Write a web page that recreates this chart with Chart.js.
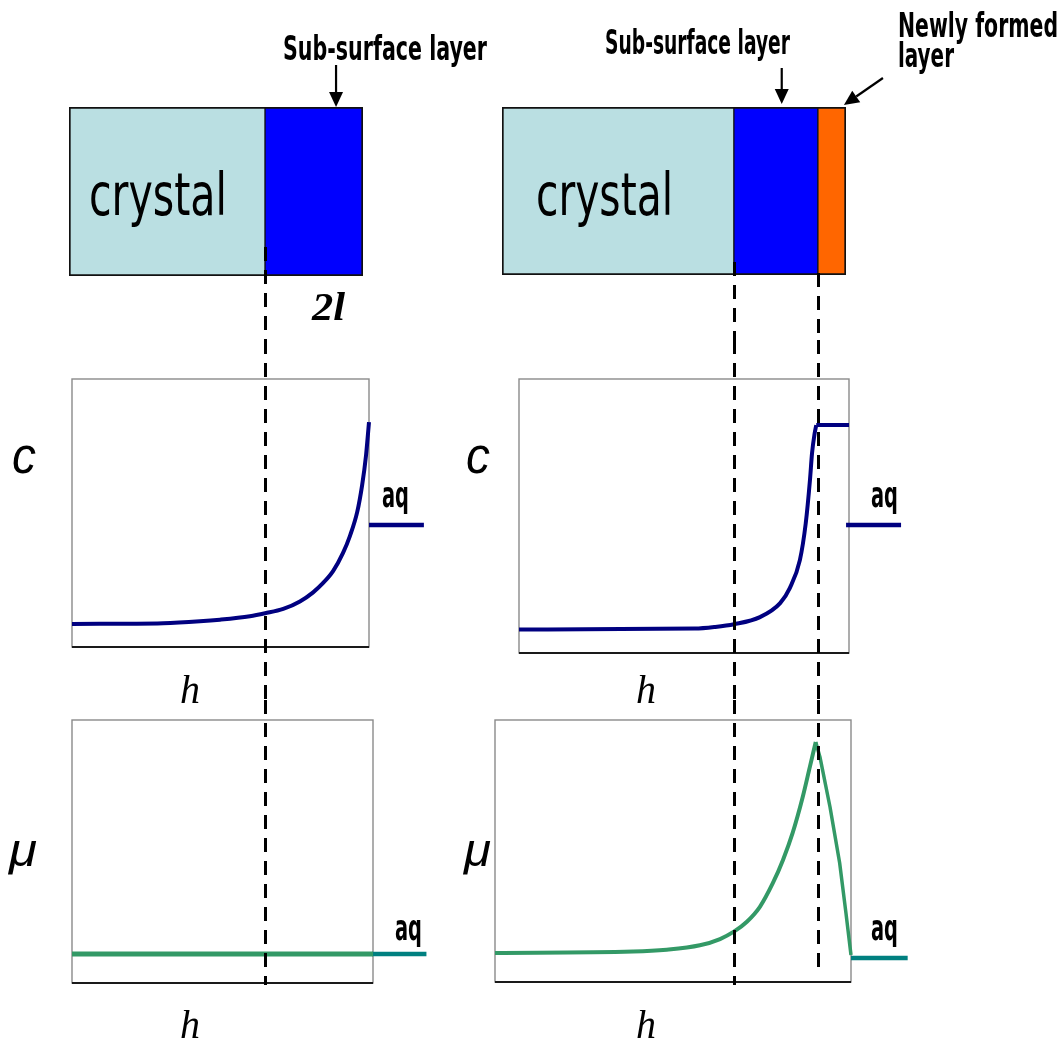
<!DOCTYPE html>
<html>
<head>
<meta charset="utf-8">
<script src="https://cdn.jsdelivr.net/npm/chart.js@4.4.1/dist/chart.umd.min.js"></script>
<style>
  html, body { margin: 0; padding: 0; background: #fff; }
  #page { position: relative; width: 1062px; height: 1042px; overflow: hidden; background: #fff; }
  .panel { position: absolute; }
  #labels { position: absolute; left: 0; top: 0; pointer-events: none; }
  .narrow { font-family: 'Liberation Sans Narrow', 'DejaVu Sans Condensed', 'Liberation Sans', sans-serif; }
  .bold { font-weight: bold; }
  .sym { font-family: 'Liberation Sans', Arial, sans-serif; font-style: italic; }
  .serif { font-family: 'Liberation Serif', 'Times New Roman', serif; font-style: italic; }
</style>
</head>
<body>
<div id="page">
  <div class="panel" style="left:0;top:0;width:460px;height:340px"><canvas id="layersBefore"></canvas></div>
  <div class="panel" style="left:460px;top:0;width:602px;height:340px"><canvas id="layersAfter"></canvas></div>
  <div class="panel" style="left:0;top:340px;width:460px;height:360px"><canvas id="concBefore"></canvas></div>
  <div class="panel" style="left:460px;top:340px;width:602px;height:360px"><canvas id="concAfter"></canvas></div>
  <div class="panel" style="left:0;top:700px;width:460px;height:342px"><canvas id="potBefore"></canvas></div>
  <div class="panel" style="left:460px;top:700px;width:602px;height:342px"><canvas id="potAfter"></canvas></div>

  <svg id="labels" width="1062" height="1042" xmlns="http://www.w3.org/2000/svg">
    <!-- layer names -->
    <text class="narrow" x="89" y="215" font-size="58" textLength="138" lengthAdjust="spacingAndGlyphs">crystal</text>
    <text class="narrow" x="536" y="215" font-size="58" textLength="137" lengthAdjust="spacingAndGlyphs">crystal</text>
    <text class="narrow bold" x="283" y="60" font-size="33" textLength="204" lengthAdjust="spacingAndGlyphs">Sub-surface layer</text>
    <text class="narrow bold" x="605" y="54" font-size="33" textLength="185" lengthAdjust="spacingAndGlyphs">Sub-surface layer</text>
    <text class="narrow bold" x="898" y="37" font-size="33" textLength="160" lengthAdjust="spacingAndGlyphs">Newly formed</text>
    <text class="narrow bold" x="898" y="67" font-size="33" textLength="56" lengthAdjust="spacingAndGlyphs">layer</text>
    <text font-family="'Liberation Serif', serif" font-style="italic" font-weight="bold" x="312" y="320" font-size="40" textLength="33" lengthAdjust="spacingAndGlyphs">2l</text>

    <!-- concentration panels -->
    <text class="sym" x="12" y="473" font-size="52" textLength="24" lengthAdjust="spacingAndGlyphs">c</text>
    <text class="sym" x="466" y="473" font-size="52" textLength="24" lengthAdjust="spacingAndGlyphs">c</text>
    <text class="narrow bold" x="382" y="507" font-size="35" textLength="27" lengthAdjust="spacingAndGlyphs">aq</text>
    <text class="narrow bold" x="871" y="507" font-size="35" textLength="27" lengthAdjust="spacingAndGlyphs">aq</text>
    <text class="serif" x="180" y="703" font-size="40">h</text>
    <text class="serif" x="636" y="703" font-size="40">h</text>

    <!-- chemical potential panels -->
    <text class="sym" x="9" y="866" font-size="46" textLength="28" lengthAdjust="spacingAndGlyphs">μ</text>
    <text class="sym" x="464" y="866" font-size="46" textLength="27" lengthAdjust="spacingAndGlyphs">μ</text>
    <text class="narrow bold" x="395" y="940" font-size="35" textLength="27" lengthAdjust="spacingAndGlyphs">aq</text>
    <text class="narrow bold" x="871" y="940" font-size="35" textLength="27" lengthAdjust="spacingAndGlyphs">aq</text>
    <text class="serif" x="180" y="1038" font-size="40">h</text>
    <text class="serif" x="636" y="1038" font-size="40">h</text>
  </svg>
</div>

<script>
// Position h is measured in units of l from the crystal / sub-surface interface (h = 0).

// Layer extents before growth
const layersBefore = ['crystal', 'Sub-surface layer'];
const layerStartBefore = [-4, 0];
const layerEndBefore = [0, 2];
const layerColorsBefore = ['#BADFE2', '#0000FF'];

// Layer extents after growth
const layersAfter = ['crystal', 'Sub-surface layer', 'Newly formed layer'];
const layerStartAfter = [-5.52, 0, 2];
const layerEndAfter = [0, 2, 2.67];
const layerColorsAfter = ['#BADFE2', '#0000FF', '#FF6600'];

// Concentration profile c(h) before growth
const hConcBefore = [-3.94, -2.08, -1.33, -0.92, -0.31, 0, 0.37, 0.71, 0.98, 1.18, 1.39, 1.59, 1.73, 1.88, 1.98, 2.06, 2.12];
const concBefore  = [0.086, 0.089, 0.096, 0.102, 0.115, 0.126, 0.142, 0.170, 0.204, 0.238, 0.284, 0.351, 0.414, 0.504, 0.604, 0.716, 0.839];
const hAqConcBefore = [2.12, 3.24];
const aqConcBefore  = [0.455, 0.455];

// Concentration profile c(h) after growth: rise through sub-surface, plateau in the new layer
const hConcAfter = [-5.12, -0.93, -0.45, 0, 0.62, 1.10, 1.33, 1.57, 1.71, 1.81, 1.86, 1.92, 1.96];
const concAfter  = [0.086, 0.089, 0.095, 0.105, 0.131, 0.182, 0.237, 0.339, 0.474, 0.631, 0.730, 0.800, 0.832];
const hConcNewLayer = [1.96, 2.74];
const concNewLayer  = [0.832, 0.832];
const hAqConcAfter = [2.67, 3.98];
const aqConcAfter  = [0.467, 0.467];

// Chemical potential mu(h) before growth
const hPotBefore = [-3.94, 2.20];
const potBefore  = [0.110, 0.110];
const hAqPotBefore = [2.18, 3.29];
const aqPotBefore  = [0.110, 0.110];

// Chemical potential mu(h) after growth: rising branch, peak, falling branch
const hPotRise = [-5.69, -2.40, -1.60, -0.81, -0.33, 0, 0.31, 0.62, 0.93, 1.17, 1.40, 1.64, 1.81, 1.95];
const potRise  = [0.111, 0.116, 0.123, 0.140, 0.164, 0.192, 0.230, 0.287, 0.378, 0.466, 0.569, 0.706, 0.821, 0.916];
const hPotFall = [1.95, 2.05, 2.29, 2.52, 2.67, 2.79];
const potFall  = [0.916, 0.859, 0.668, 0.454, 0.263, 0.103];
const hAqPotAfter = [2.79, 4.14];
const aqPotAfter  = [0.092, 0.092];

const NAVY = '#000080', GREEN = '#339966', TEAL = '#008080';

const xy = (hs, vs) => hs.map((h, i) => ({ x: h, y: vs[i] }));

// Plot frame: grey box with a dark baseline
const frameBox = {
  id: 'frameBox',
  beforeDatasetsDraw(chart, args, opts) {
    if (!opts || !opts.show) return;
    const { ctx, chartArea: a } = chart;
    ctx.save();
    ctx.strokeStyle = '#8a8a8a';
    ctx.lineWidth = 1.4;
    ctx.strokeRect(a.left, a.top, a.right - a.left, a.bottom - a.top);
    ctx.beginPath();
    ctx.moveTo(a.left, a.bottom);
    ctx.lineTo(a.right, a.bottom);
    ctx.strokeStyle = '#1a1a1a';
    ctx.lineWidth = 2;
    ctx.stroke();
    ctx.restore();
  }
};

// Dashed vertical guides at the layer interfaces
const interfaces = {
  id: 'interfaces',
  afterDatasetsDraw(chart, args, opts) {
    if (!opts || !opts.lines) return;
    const { ctx } = chart;
    const xs = chart.scales.x;
    ctx.save();
    ctx.strokeStyle = '#000';
    ctx.lineWidth = 3;
    ctx.setLineDash([14, 9]);
    opts.lines.forEach(l => {
      const px = Math.round(xs.getPixelForValue(l.h)) + 0.5;
      ctx.beginPath();
      ctx.moveTo(px, l.from);
      ctx.lineTo(px, l.to == null ? chart.height : l.to);
      ctx.stroke();
    });
    ctx.restore();
  }
};

// Pointer arrows from the layer captions
const pointers = {
  id: 'pointers',
  afterDraw(chart, args, opts) {
    if (!opts || !opts.arrows) return;
    const { ctx } = chart;
    const xs = chart.scales.x;
    opts.arrows.forEach(a => {
      const x0 = xs.getPixelForValue(a.h0), x1 = xs.getPixelForValue(a.h1);
      const ang = Math.atan2(a.y1 - a.y0, x1 - x0);
      const L = 15, W = 7;
      const bx = x1 - L * Math.cos(ang), by = a.y1 - L * Math.sin(ang);
      ctx.save();
      ctx.strokeStyle = '#000';
      ctx.fillStyle = '#000';
      ctx.lineWidth = 2.2;
      ctx.beginPath();
      ctx.moveTo(x0, a.y0);
      ctx.lineTo(bx, by);
      ctx.stroke();
      ctx.beginPath();
      ctx.moveTo(x1, a.y1);
      ctx.lineTo(bx + W * Math.sin(ang), by - W * Math.cos(ang));
      ctx.lineTo(bx - W * Math.sin(ang), by + W * Math.cos(ang));
      ctx.closePath();
      ctx.fill();
      ctx.restore();
    });
  }
};

Chart.defaults.animation = false;
Chart.defaults.responsive = true;
Chart.defaults.maintainAspectRatio = false;
Chart.defaults.plugins.legend.display = false;
Chart.defaults.plugins.tooltip.enabled = false;
Chart.defaults.events = [];

function layerChart(id, names, starts, ends, colors, xmin, xmax, padding, lines, arrows) {
  const last = names.length - 1;
  return new Chart(document.getElementById(id), {
    type: 'bar',
    data: {
      labels: ['layers'],
      datasets: names.map((n, i) => ({
        label: n,
        data: [[starts[i], ends[i]]],
        backgroundColor: colors[i],
        borderColor: '#111',
        borderWidth: { top: 2, bottom: 2, left: i === 0 ? 2 : 1, right: i === last ? 2 : 1 },
        borderSkipped: false,
        grouped: false,
        barPercentage: 1,
        categoryPercentage: 1
      }))
    },
    options: {
      indexAxis: 'y',
      layout: { padding },
      scales: {
        x: { type: 'linear', min: xmin, max: xmax, display: false },
        y: { display: false }
      },
      plugins: { interfaces: { lines }, pointers: { arrows } }
    },
    plugins: [interfaces, pointers]
  });
}

function profileChart(id, datasets, xmin, xmax, padding, lines) {
  return new Chart(document.getElementById(id), {
    type: 'line',
    data: {
      datasets: datasets.map(d => ({
        data: d.data,
        borderColor: d.color,
        borderWidth: d.width || 4,
        pointRadius: 0,
        fill: false,
        clip: false,
        cubicInterpolationMode: d.smooth ? 'monotone' : 'default',
        tension: 0,
        borderCapStyle: 'butt',
        borderJoinStyle: 'round'
      }))
    },
    options: {
      layout: { padding },
      scales: {
        x: { type: 'linear', min: xmin, max: xmax, display: false },
        y: { type: 'linear', min: 0, max: 1, display: false }
      },
      plugins: { frameBox: { show: true }, interfaces: { lines } }
    },
    plugins: [frameBox, interfaces]
  });
}

// Layer stacks
layerChart('layersBefore', layersBefore, layerStartBefore, layerEndBefore, layerColorsBefore,
  -4, 2, { left: 69, right: 97, top: 107, bottom: 64 },
  [{ h: layerEndBefore[0], from: 247 }],
  [{ h0: 1.45, y0: 65, h1: 1.45, y1: 107 }]);

layerChart('layersAfter', layersAfter, layerStartAfter, layerEndAfter, layerColorsAfter,
  -5.52, 2.67, { left: 42, right: 216, top: 107, bottom: 65 },
  [{ h: layerEndAfter[0], from: 262 }, { h: layerEndAfter[1], from: 273 }],
  [{ h0: 1.14, y0: 68, h1: 1.14, y1: 104 }, { h0: 3.55, y0: 78, h1: 2.62, y1: 105 }]);

// Concentration profiles
profileChart('concBefore', [
  { data: xy(hConcBefore, concBefore), color: NAVY, smooth: true },
  { data: xy(hAqConcBefore, aqConcBefore), color: NAVY, width: 4.5 }
], -3.94, 2.12, { left: 72, right: 91, top: 39, bottom: 53 },
  [{ h: layerEndBefore[0], from: 0 }]);

profileChart('concAfter', [
  { data: xy(hConcAfter, concAfter), color: NAVY, smooth: true },
  { data: xy(hConcNewLayer, concNewLayer), color: NAVY },
  { data: xy(hAqConcAfter, aqConcAfter), color: NAVY, width: 4.5 }
], -5.12, 2.74, { left: 59, right: 213, top: 39, bottom: 47 },
  [{ h: layerEndAfter[0], from: 0 }, { h: layerEndAfter[1], from: 0 }]);

// Chemical potential profiles
profileChart('potBefore', [
  { data: xy(hPotBefore, potBefore), color: GREEN, width: 5 },
  { data: xy(hAqPotBefore, aqPotBefore), color: TEAL, width: 4.5 }
], -3.94, 2.20, { left: 72, right: 87, top: 20, bottom: 59 },
  [{ h: layerEndBefore[0], from: 0, to: 285 }]);

profileChart('potAfter', [
  { data: xy(hPotRise, potRise), color: GREEN, smooth: true },
  { data: xy(hPotFall, potFall), color: GREEN, width: 3.5 },
  { data: xy(hAqPotAfter, aqPotAfter), color: TEAL, width: 4.5 }
], -5.69, 2.79, { left: 35, right: 211, top: 20, bottom: 60 },
  [{ h: layerEndAfter[0], from: 0, to: 285 }, { h: layerEndAfter[1], from: 0, to: 276 }]);
</script>
</body>
</html>
